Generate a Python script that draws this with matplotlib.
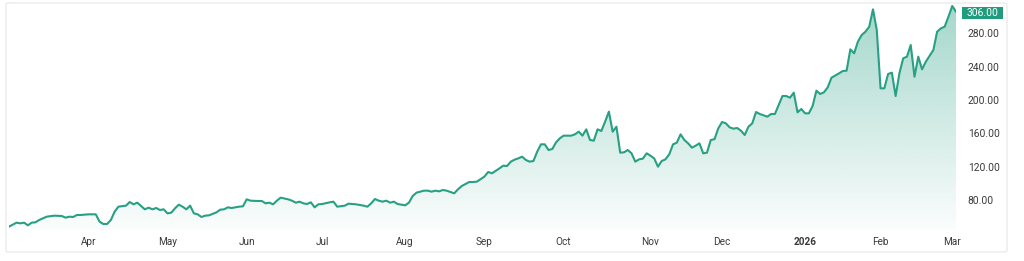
import numpy as np
import matplotlib
matplotlib.use("Agg")
import matplotlib.pyplot as plt
from matplotlib.patches import Polygon, FancyBboxPatch, Rectangle

# ---- data (trading session number since 2025-03-03, close price) ----
session = [0, 2, 3, 4, 5, 6, 7, 8, 10, 12, 14, 15, 16, 17, 18, 19, 21, 23, 24, 25,
           26, 27, 28, 29, 31, 32, 33, 34, 35, 36, 37, 38, 39, 40, 41, 42, 43, 44, 45, 46,
           47, 48, 49, 50, 51, 52, 53, 55, 56, 57, 58, 59, 61, 62, 63, 64, 66, 67, 68, 69,
           70, 71, 72, 74, 75, 76, 77, 78, 79, 80, 81, 82, 83, 85, 86, 87, 89, 90, 92, 93,
           94, 95, 96, 97, 98, 99, 100, 101, 102, 103, 105, 106, 107, 108, 110, 111, 112, 113, 114, 115,
           116, 118, 119, 120, 121, 122, 123, 124, 126, 127, 128, 130, 131, 132, 133, 134, 135, 136, 137, 138,
           139, 140, 141, 142, 143, 144, 145, 146, 147, 149, 150, 151, 152, 153, 154, 155, 156, 157, 158, 159,
           160, 161, 162, 163, 164, 165, 166, 167, 168, 169, 170, 171, 172, 173, 174, 175, 176, 177, 178, 179,
           180, 181, 182, 183, 184, 185, 186, 187, 188, 189, 190, 191, 192, 193, 194, 195, 196, 197, 198, 199,
           201, 202, 203, 204, 205, 206, 207, 208, 209, 210, 211, 212, 213, 214, 215, 216, 217, 218, 220, 221,
           222, 223, 224, 225, 226, 227, 228, 229, 230, 231, 232, 233, 234, 235, 236, 237, 238, 239, 240, 241,
           242, 243, 245, 246, 247, 248, 249, 250, 251]
close = [48.0, 52.8, 52.0, 52.8, 49.6, 52.8, 53.2, 56.0, 60.0, 61.2, 60.8, 58.8, 60.0, 59.6, 62.0, 62.0, 62.8, 62.8, 54.0, 51.2,
         51.2, 56.0, 66.0, 72.0, 73.2, 77.6, 74.8, 76.8, 72.8, 68.8, 70.8, 68.8, 70.4, 68.0, 68.8, 64.0, 64.8, 70.0, 74.4, 72.0,
         68.8, 73.2, 64.0, 62.8, 59.6, 61.2, 61.6, 65.2, 68.4, 68.8, 71.2, 70.4, 72.0, 72.4, 80.8, 79.2, 78.8, 78.8, 76.0, 76.8,
         74.8, 79.2, 82.8, 80.8, 79.2, 76.8, 78.0, 76.0, 75.2, 77.2, 71.2, 74.8, 75.2, 77.2, 78.0, 72.0, 73.2, 75.6, 74.8, 74.0,
         73.2, 72.0, 76.0, 81.2, 79.2, 78.0, 79.2, 76.8, 78.0, 75.2, 73.6, 76.8, 84.8, 88.8, 91.2, 91.2, 90.0, 91.2, 90.4, 92.0,
         91.2, 88.0, 92.8, 96.8, 99.2, 101.6, 101.6, 102.0, 108.0, 113.6, 112.0, 118.0, 121.2, 120.8, 126.0, 128.4, 130.0, 132.0, 128.0, 126.0,
         126.8, 138.0, 146.8, 146.8, 140.0, 141.2, 149.2, 154.0, 157.2, 157.2, 158.8, 162.0, 157.2, 164.8, 152.0, 151.2, 164.8, 162.8, 174.0, 186.0,
         162.0, 168.0, 136.8, 137.2, 140.0, 136.0, 126.0, 128.8, 129.6, 136.0, 133.2, 130.0, 120.0, 126.8, 128.8, 134.8, 146.8, 148.8, 158.8, 152.0,
         148.0, 142.8, 145.2, 148.0, 136.0, 136.8, 152.0, 153.0, 166.0, 173.6, 172.0, 167.2, 165.6, 166.4, 163.2, 158.0, 168.0, 172.0, 185.6, 183.2,
         180.0, 183.2, 183.2, 194.0, 204.8, 204.8, 202.8, 208.8, 185.2, 189.2, 184.0, 184.0, 192.8, 211.2, 207.2, 209.2, 215.2, 226.8, 232.0, 234.8,
         235.2, 260.8, 256.0, 270.0, 278.0, 282.0, 288.0, 308.8, 284.0, 214.0, 214.0, 231.2, 232.8, 204.8, 232.0, 250.0, 252.0, 266.0, 228.0, 252.0,
         236.8, 246.0, 260.0, 282.0, 286.0, 288.0, 300.0, 312.8, 306.0]

first_session_date = "2025-03-03"
holidays = ["2025-04-18", "2025-05-26", "2025-06-19", "2025-07-04", "2025-09-01",
            "2025-11-27", "2025-12-25", "2026-01-01", "2026-01-19", "2026-02-16"]
month_dates = ["2025-04-01", "2025-05-01", "2025-06-02", "2025-07-01", "2025-08-01", "2025-09-02",
               "2025-10-01", "2025-11-03", "2025-12-01", "2026-01-02", "2026-02-02", "2026-03-02"]
month_labels = ["Apr", "May", "Jun", "Jul", "Aug", "Sep", "Oct", "Nov", "Dec", "2026", "Feb", "Mar"]
price_ticks = [80, 120, 160, 200, 240, 280]
last_price = 306.00

# ---- styling ----
LINE = "#27a084"
BADGE = "#1f9c7e"
TEXT = "#3a3a3a"

x = np.array(session, dtype=float)
y = np.array(close, dtype=float)
month_pos = np.busday_count(first_session_date, month_dates, holidays=holidays)

fig = plt.figure(figsize=(10.24, 2.61), dpi=100)
fig.patch.set_facecolor("white")

# faint card border
card = FancyBboxPatch((6 / 1024, 9 / 261), 1001 / 1024, 249 / 261,
                      boxstyle="round,pad=0,rounding_size=0.004",
                      transform=fig.transFigure, facecolor="none",
                      edgecolor="#ebebeb", lw=1.0, zorder=0)
fig.patches.append(card)

ax = fig.add_axes([9 / 1024, 31 / 261, 947 / 1024, 230 / 261])
ymin, ymax = 44, 320
ax.set_xlim(0, 251)
ax.set_ylim(ymin, ymax)

# gradient fill under the line
verts = np.column_stack([np.r_[x, x[::-1]], np.r_[y, np.full(len(x), ymin)]])
clip = Polygon(verts, closed=True, facecolor="none", edgecolor="none")
ax.add_patch(clip)
n = 256
alpha = np.linspace(0.02, 0.42, n)[:, None]
rgb = np.array(matplotlib.colors.to_rgb(LINE))
grad = np.zeros((n, 1, 4))
grad[..., :3] = rgb
grad[..., 3] = alpha
im = ax.imshow(grad, extent=[0, 251, ymin, y.max()], origin="lower",
               aspect="auto", interpolation="bilinear", zorder=1)
im.set_clip_path(clip)

ax.plot(x, y, color=LINE, lw=1.5, solid_joinstyle="round", zorder=3)

for s in ax.spines.values():
    s.set_visible(False)

ax.yaxis.tick_right()
ax.set_yticks(price_ticks)
ax.set_yticklabels([f"{v:.2f}" for v in price_ticks], family="Roboto", fontsize=7.4, color=TEXT)
ax.tick_params(axis="y", length=0, pad=8.5)

ax.set_xticks(month_pos)
ax.set_xticklabels(month_labels, family="Roboto", fontsize=7.2, color=TEXT)
for lbl in ax.get_xticklabels():
    if lbl.get_text().isdigit():
        lbl.set_fontweight("bold")
ax.tick_params(axis="x", length=0, pad=5)

# last price badge
ytr = ax.get_yaxis_transform()
badge = Rectangle((1.0063, last_price - 8.6), 0.0433, 14.4, transform=ytr,
                  facecolor=BADGE, edgecolor="none", clip_on=False, zorder=4)
ax.add_patch(badge)
ax.text(1.028, last_price - 1.4, f"{last_price:.2f}", transform=ytr,
        ha="center", va="center", family="Roboto", fontsize=7.4, color="white",
        clip_on=False, zorder=5)

fig.savefig("out.png", dpi=100, facecolor="white")
